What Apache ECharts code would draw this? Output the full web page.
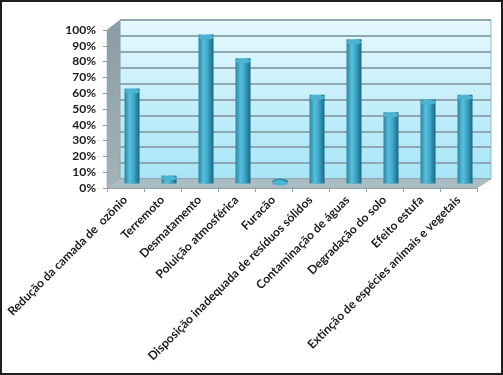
<!DOCTYPE html>
<html>
<head>
<meta charset="utf-8">
<script src="https://cdn.jsdelivr.net/npm/echarts@6/dist/echarts.min.js"></script>
<style>
  html, body { margin: 0; padding: 0; background: #fff; }
  #chart { width: 503px; height: 375px; }
</style>
</head>
<body>
<div id="chart"></div>
<script>
const categories = [
  'Redução da camada de  ozônio',
  'Terremoto',
  'Desmatamento',
  'Poluição atmosférica',
  'Furacão',
  'Disposição inadequada de resíduos sólidos',
  'Contaminação de águas',
  'Degradação do solo',
  'Efeito estufa',
  'Extinção de espécies animais e vegetais'
];
const values = [60, 5, 94, 79, 2, 56, 91, 45, 53, 56];
const yTicks = { min: 0, max: 100, interval: 10 };

const chart = echarts.init(document.getElementById('chart'), null, { renderer: 'canvas' });

const labelFont = { fontFamily: 'Lato', fontWeight: 'bold', fontSize: 12, color: '#1a1a1a' };

const barGradient = {
  type: 'linear', x: 0, y: 0, x2: 1, y2: 0,
  colorStops: [
    { offset: 0, color: '#2a86a4' },
    { offset: 0.35, color: '#58c0de' },
    { offset: 0.6, color: '#3fa9c9' },
    { offset: 1, color: '#1d6680' }
  ]
};

const option = {
  animation: false,
  backgroundColor: '#ffffff',
  grid: [
    { left: 107, right: 26, top: 30, bottom: 187 },          // front plane (axes)
    { left: 113.5, right: 19.5, top: 25, bottom: 191.5 },    // middle plane (bars)
    {                                                         // back wall
      left: 120, right: 12, top: 20, bottom: 196, show: true,
      borderColor: '#9fb7c0', borderWidth: 1,
      backgroundColor: {
        type: 'linear', x: 0, y: 0, x2: 0, y2: 1,
        colorStops: [
          { offset: 0, color: '#e6f9ff' },
          { offset: 1, color: '#a6e5f6' }
        ]
      }
    }
  ],
  xAxis: [
    {
      type: 'category', gridIndex: 0, data: categories,
      axisLine: { show: true, lineStyle: { color: '#8e9ea4', width: 1 } },
      axisTick: { show: true, length: 4, lineStyle: { color: '#8e9ea4' } },
      axisLabel: Object.assign({ interval: 0, rotate: 45, margin: 10 }, labelFont)
    },
    {
      type: 'category', gridIndex: 1, data: categories,
      axisLine: { show: false }, axisTick: { show: false }, axisLabel: { show: false }
    },
    {
      type: 'category', gridIndex: 2, data: categories,
      axisLine: { show: false }, axisTick: { show: false }, axisLabel: { show: false }
    }
  ],
  yAxis: [
    {
      type: 'value', gridIndex: 0, min: yTicks.min, max: yTicks.max, interval: yTicks.interval,
      axisLine: { show: false },
      axisTick: { show: true, length: 4, lineStyle: { color: '#8e9ea4' } },
      splitLine: { show: false },
      axisLabel: Object.assign({ formatter: '{value}%', margin: 11 }, labelFont)
    },
    {
      type: 'value', gridIndex: 1, min: yTicks.min, max: yTicks.max, interval: yTicks.interval,
      axisLine: { show: false }, axisTick: { show: false }, axisLabel: { show: false },
      splitLine: { show: false }
    },
    {
      type: 'value', gridIndex: 2, min: yTicks.min, max: yTicks.max, interval: yTicks.interval,
      axisLine: { show: false }, axisTick: { show: false }, axisLabel: { show: false },
      splitLine: { show: true, lineStyle: { color: '#8fa8b2', width: 2 } }
    }
  ],
  graphic: [
    { // left side wall
      type: 'polygon', z: 1, silent: true,
      shape: { points: [[107, 30], [120, 20], [120, 179], [107, 188]] },
      style: {
        fill: { type: 'linear', x: 0, y: 0, x2: 0, y2: 1,
          colorStops: [{ offset: 0, color: '#8a9ca3' }, { offset: 1, color: '#a3b3b8' }] },
        stroke: '#8a9ca3', lineWidth: 0.5
      }
    },
    { // floor
      type: 'polygon', z: 1, silent: true,
      shape: { points: [[107, 188], [120, 179], [491, 179], [477, 188]] },
      style: { fill: '#a9bdc3', stroke: '#98adb4', lineWidth: 0.5 }
    },
    { // outer frame
      type: 'rect', z: 100, silent: true,
      shape: { x: 1, y: 1, width: 501, height: 373 },
      style: { fill: 'none', stroke: '#1e1e1e', lineWidth: 2 }
    }
  ],
  series: [
    { // base ellipse
      type: 'pictorialBar', xAxisIndex: 1, yAxisIndex: 1, z: 3,
      symbol: 'circle', symbolSize: [15, 5], symbolPosition: 'start',
      data: values,
      itemStyle: { color: '#2f8fae' }
    },
    {
      type: 'bar', xAxisIndex: 1, yAxisIndex: 1, z: 4,
      barWidth: 15,
      data: values,
      itemStyle: { color: barGradient }
    },
    { // top ellipse
      type: 'pictorialBar', xAxisIndex: 1, yAxisIndex: 1, z: 5,
      symbol: 'circle', symbolSize: [15, 5], symbolPosition: 'end',
      data: values,
      itemStyle: { color: '#4cb4d2', borderColor: '#2a7e98', borderWidth: 0.8 }
    }
  ]
};

chart.setOption(option);
</script>
</body>
</html>
